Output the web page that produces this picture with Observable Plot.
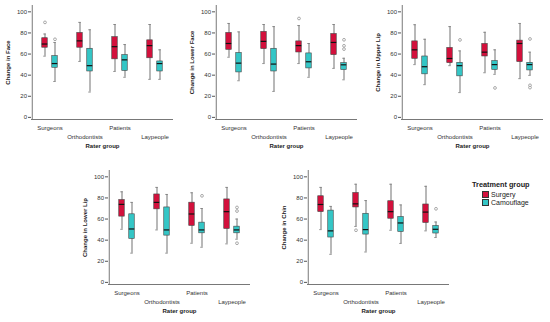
<!DOCTYPE html>
<html>
<head>
<meta charset="utf-8">
<script src="https://cdn.jsdelivr.net/npm/d3@7"></script>
<script src="https://cdn.jsdelivr.net/npm/@observablehq/plot@0.6"></script>
<style>
  body { margin: 0; background: #fff; }
  #wrap { position: relative; width: 550px; height: 322px; background: #fff; font-family: "Liberation Sans", Arial, sans-serif; }
  .panel { position: absolute; }
  #legend { position: absolute; left: 472px; top: 180px; font-size: 7px; color: #222; }
  #legend .title { font-weight: bold; font-size: 7.3px; margin-bottom: 2px; }
  #legend .item { display: flex; align-items: center; margin-left: 10px; height: 7.5px; }
  #legend .sw { width: 5px; height: 5px; border: 0.6px solid #333; margin-right: 2px; }
</style>
</head>
<body>
<div id="wrap"><div id="legend"></div></div>
<script>
const raterGroups = ["Surgeons", "Orthodontists", "Patients", "Laypeople"];
const treatments = ["Surgery", "Camouflage"];
const colors = ["#d3103c", "#34c6c6"];
const yTicks = [0, 20, 40, 60, 80, 100];

// five-number summaries [lowWhisker, q1, median, q3, highWhisker], order: S-Surg, S-Camo, O-Surg, O-Camo, P-Surg, P-Camo, L-Surg, L-Camo
const faceBoxes = [
  [58, 66, 69.5, 75, 79], [34, 47, 51, 58, 71],
  [53, 66, 72.5, 80, 90], [24, 43.5, 49, 65, 83],
  [43.5, 55, 67, 76, 88], [38, 44, 54.5, 59, 69],
  [36, 56, 68, 73, 88], [36, 43.5, 51, 53, 64]
];
const faceOutliers = [[0, 0, 90], [0, 1, 74]];

const lowerFaceBoxes = [
  [57, 64, 70, 80, 89], [34.7, 42.6, 51.4, 61, 81],
  [51, 64.7, 72, 81, 88], [24.6, 43.5, 50.5, 65, 86],
  [51, 61.5, 68, 72, 87], [38, 46.4, 52.7, 60.6, 70],
  [46.4, 59, 71, 79, 88], [35.6, 44.8, 49.8, 51.4, 56]
];
const lowerFaceOutliers = [[2, 0, 93.7], [3, 1, 73.5], [3, 1, 67.8], [3, 1, 64.7]];

const upperLipBoxes = [
  [50, 55.5, 64, 72, 87.8], [31, 40.8, 48, 57.7, 74],
  [49, 51.4, 55.8, 65.8, 86], [23.5, 38.9, 49, 51.7, 63],
  [42.3, 57.7, 61.8, 69.6, 80.6], [40.8, 45, 50, 53.3, 64],
  [36.7, 52.4, 70, 72.7, 89], [39.8, 44.5, 50, 51.7, 61.8]
];
const upperLipOutliers = [[1, 1, 73.4], [2, 1, 27.9], [3, 1, 74.3], [3, 1, 30.4], [3, 1, 28.2]];

const lowerLipBoxes = [
  [50.3, 62.3, 73.9, 78, 85.8], [27.7, 41.2, 50.6, 64.5, 75.8],
  [49.7, 69.2, 75.8, 83.3, 90], [27.7, 44.3, 49.7, 71, 83.3],
  [37.1, 53.5, 64.8, 75.5, 84.9], [33.3, 46.5, 49.7, 56.6, 70],
  [36.5, 50.6, 67, 78.6, 90], [40.9, 46.5, 49.7, 52.8, 60]
];
const lowerLipOutliers = [[2, 1, 82], [3, 1, 71], [3, 1, 67.6], [3, 1, 37.1]];

const chinBoxes = [
  [50, 66.6, 73.8, 81.6, 90], [26.6, 42.5, 48.8, 68, 72],
  [53, 71, 74.4, 84.7, 93], [28.8, 45.3, 50, 65, 77.5],
  [49.4, 60.3, 67, 76.9, 93], [36.9, 47.8, 56.3, 61.9, 73.4],
  [48.8, 56.3, 66.6, 73.8, 91], [42.5, 46.3, 50.3, 53.4, 57.2]
];
const chinOutliers = [[1, 0, 49.4], [3, 1, 69.7]];

const panels = [
  {label: "Change in Face", boxes: faceBoxes, outliers: faceOutliers, left: 0, top: 0},
  {label: "Change in Lower Face", boxes: lowerFaceBoxes, outliers: lowerFaceOutliers, left: 184, top: 0},
  {label: "Change in Upper Lip", boxes: upperLipBoxes, outliers: upperLipOutliers, left: 370, top: 0},
  {label: "Change in Lower Lip", boxes: lowerLipBoxes, outliers: lowerLipOutliers, left: 77, top: 165},
  {label: "Change in Chin", boxes: chinBoxes, outliers: chinOutliers, left: 276, top: 165}
];

const W = 180, H = 156, ML = 31, MR = 7, MT = 5, MB = 37;
const bw = (W - ML - MR) / raterGroups.length;
const boxW = 6, capW = 3, off = 5;

function makePanel(p) {
  const rows = p.boxes.map((b, i) => ({
    group: raterGroups[Math.floor(i / 2)], t: i % 2,
    lo: b[0], q1: b[1], med: b[2], q3: b[3], hi: b[4]
  }));
  const outs = p.outliers.map(([g, t, v]) => ({group: raterGroups[g], t, v}));
  const marks = [];
  for (let t = 0; t < 2; t++) {
    const dx = t === 0 ? -off : off;
    const r = rows.filter(d => d.t === t);
    const o = outs.filter(d => d.t === t);
    const inB = (bw - boxW) / 2, inC = (bw - capW) / 2;
    marks.push(
      Plot.ruleX(r, {x: "group", y1: "lo", y2: "hi", dx, stroke: "#9a9a9a", strokeWidth: 1.4}),
      Plot.tickY(r, {x: "group", y: "lo", dx, insetLeft: inC, insetRight: inC, stroke: "#777", strokeWidth: 0.8}),
      Plot.tickY(r, {x: "group", y: "hi", dx, insetLeft: inC, insetRight: inC, stroke: "#777", strokeWidth: 0.8}),
      Plot.barY(r, {x: "group", y1: "q1", y2: "q3", dx, insetLeft: inB, insetRight: inB, fill: colors[t], stroke: "#444", strokeWidth: 0.6}),
      Plot.tickY(r, {x: "group", y: "med", dx, insetLeft: inB, insetRight: inB, stroke: "#111", strokeWidth: 1.2}),
      Plot.dot(o, {x: "group", y: "v", dx, r: 1.4, stroke: "#888", fill: "#fff", strokeWidth: 0.7})
    );
  }
  const chart = Plot.plot({
    width: W, height: H,
    marginLeft: ML, marginRight: MR, marginTop: MT, marginBottom: MB,
    style: {fontFamily: "'Liberation Sans', Arial, sans-serif", background: "transparent", color: "#333"},
    x: {domain: raterGroups, padding: 0, axis: null},
    y: {domain: [-2, 106], axis: null},
    marks: [
      Plot.axisY(yTicks, {tickSize: 3, tickPadding: 1.5, fontSize: 6, label: null, stroke: "#555", fill: "#333"}),
      Plot.axisX({ticks: ["Surgeons", "Patients"], tickSize: 0, tickPadding: 6, fontSize: 6, label: null, fill: "#333"}),
      Plot.axisX({ticks: ["Orthodontists", "Laypeople"], tickSize: 0, tickPadding: 15, fontSize: 6, label: null, fill: "#333"}),
      Plot.ruleY([-2], {stroke: "#555", strokeWidth: 0.8}),
      Plot.ruleX([raterGroups[0]], {dx: -bw / 2, y1: -2, y2: 106, stroke: "#555", strokeWidth: 0.8}),
      Plot.text([p.label], {frameAnchor: "left", dx: -23, rotate: -90, textAnchor: "middle", fontSize: 6, fontWeight: "bold", fill: "#222"}),
      Plot.text(["Rater group"], {frameAnchor: "bottom", dy: 28, fontSize: 6, fontWeight: "bold", fill: "#222"}),
      ...marks
    ]
  });
  const div = document.createElement("div");
  div.className = "panel";
  div.style.left = p.left + "px";
  div.style.top = p.top + "px";
  div.appendChild(chart);
  document.getElementById("wrap").appendChild(div);
}
panels.forEach(makePanel);

const legend = document.getElementById("legend");
legend.innerHTML = `<div class="title">Treatment group</div>` +
  treatments.map((t, i) => `<div class="item"><span class="sw" style="background:${colors[i]}"></span>${t}</div>`).join("");
</script>
</body>
</html>
